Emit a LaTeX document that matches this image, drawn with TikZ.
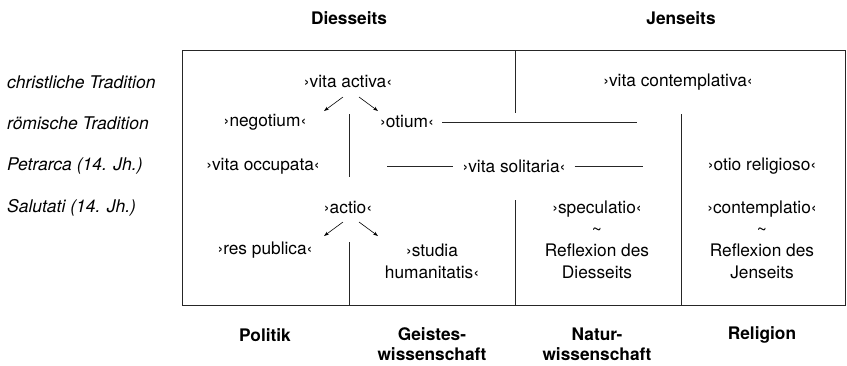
\documentclass[tikz,border=0pt]{standalone}
\usepackage{fontspec}
\setmainfont{TeX Gyre Heros}
\usetikzlibrary{arrows.meta}

\tikzset{
  txt/.style={font=\fontsize{17.3}{21.5}\selectfont, align=center, inner sep=1pt},
  head/.style={align=center, inner sep=1pt, font=\fontsize{17.3}{20}\selectfont\bfseries},
  side/.style={inner sep=1pt, anchor=west, font=\fontsize{17.5}{20}\selectfont\itshape},
  rule/.style={line width=0.9pt, draw=black!85},
  arr/.style={line width=0.6pt, -{Stealth[length=5pt,width=3.5pt]}},
}

\begin{document}
\begin{tikzpicture}[x=1pt, y=-1pt]
    \useasboundingbox (0,0) rectangle (847,365);
    % column heads
    \node[head] (diesseits) at (349,18) {Diesseits};
    \node[head] (jenseits) at (681,18) {Jenseits};
    % rows
    \node[side] (christ) at (6,82) {christliche Tradition};
    \node[side] (roem) at (6,123) {römische Tradition};
    \node[side] (petr) at (6,166) {Petrarca (14. Jh.)};
    \node[side] (salut) at (6,208) {Salutati (14. Jh.)};
    % frame
    \draw[rule] (182,50) rectangle (845,305);
    \draw[rule] (515,50) -- (515,113);
    \draw[rule] (349,114) -- (349,177);
    \draw[rule] (349,242) -- (349,305);
    \draw[rule] (515,200) -- (515,305);
    \draw[rule] (681,114) -- (681,305);
    % terms
    \node[txt] (activa) at (348,82) {›vita activa‹};
    \node[txt] (contempl) at (678,82) {›vita contemplativa‹};
    \node[txt] (negotium) at (265,122) {›negotium‹};
    \node[txt] (otium) at (407,122) {›otium‹};
    \node[txt] (occupata) at (263,166) {›vita occupata‹};
    \node[txt] (solitaria) at (514,166) {›vita solitaria‹};
    \node[txt] (religioso) at (762,166) {›otio religioso‹};
    \node[txt] (actio) at (348,208) {›actio‹};
    \node[txt] (respub) at (265,250) {›res publica‹};
    \node[txt] (studia) at (432,261.5) {›studia\\humanitatis‹};
    \node[txt] (specul) at (597,240) {›speculatio‹\\\textasciitilde\\Reflexion des\\Diesseits};
    \node[txt] (contemplatio) at (762,240) {›contemplatio‹\\\textasciitilde\\Reflexion des\\Jenseits};
    % links
    \coordinate (otiumend) at (637,122);
    \coordinate (solleft) at (387,166);
    \coordinate (solright) at (643,166);
    \draw[rule] (otium.east) ++(7,0) -- (otiumend);
    \draw[rule] (solleft) -- ([xshift=-8pt]solitaria.west);
    \draw[rule] ([xshift=8pt]solitaria.east) -- (solright);
    \draw[arr] ([shift={(-5,15)}]activa.center) -- ++(-19,14);
    \draw[arr] ([shift={(11,15)}]activa.center) -- ++(19,14);
    \draw[arr] ([shift={(-5,14)}]actio.center) -- ++(-19,14);
    \draw[arr] ([shift={(11,14)}]actio.center) -- ++(19,14);
    % disciplines
    \node[head] (politik) at (265,335) {Politik};
    \node[head] (geistes) at (432,344) {Geistes-\\wissenschaft};
    \node[head] (natur) at (597,344) {Natur-\\wissenschaft};
    \node[head] (religion) at (762,335) {Religion};
\end{tikzpicture}
\end{document}
